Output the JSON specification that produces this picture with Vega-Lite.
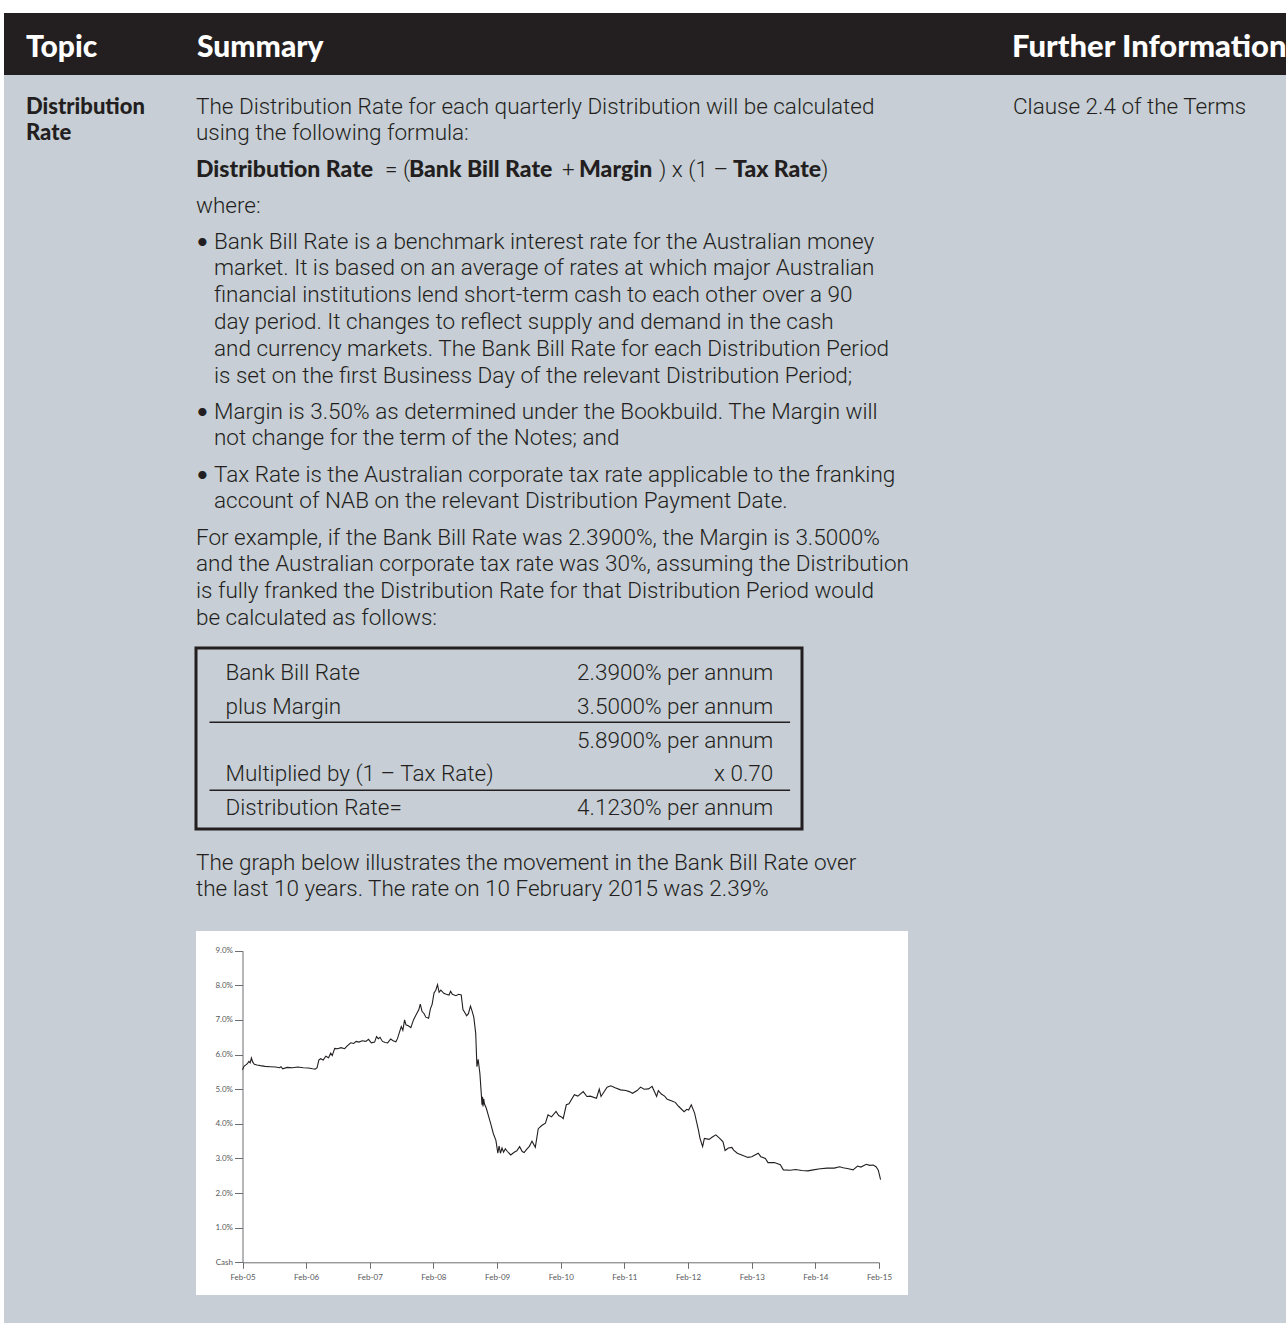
{
  "$schema": "https://vega.github.io/schema/vega-lite/v6.json",
  "background": "#c7ced5",
  "padding": 0,
  "spacing": 0,
  "config": {
    "view": {"stroke": null},
    "concat": {"spacing": 0},
    "text": {"font": "Roboto", "fontSize": 22.5, "fontWeight": 300, "color": "#231f20", "align": "left", "baseline": "alphabetic"},
    "axis": {"labelFont": "Lato", "labelFontSize": 8, "labelColor": "#58595b", "domainColor": "#6d6e71", "tickColor": "#6d6e71", "domainWidth": 1, "tickWidth": 1, "grid": false, "labelFlush": false, "labelOverlap": false}
  },
  "datasets": {
    "topic": [{"line": 1, "text": "Distribution"}, {"line": 2, "text": "Rate"}],
    "intro": [{"line": 1, "text": "The Distribution Rate for each quarterly Distribution will be calculated"}, {"line": 2, "text": "using the following formula:"}],
    "where": [{"line": 1, "text": "where:"}],
    "bullet1": [
      {"line": 1, "text": "Bank Bill Rate is a benchmark interest rate for the Australian money"},
      {"line": 2, "text": "market. It is based on an average of rates at which major Australian"},
      {"line": 3, "text": "financial institutions lend short-term cash to each other over a 90"},
      {"line": 4, "text": "day period. It changes to reflect supply and demand in the cash"},
      {"line": 5, "text": "and currency markets. The Bank Bill Rate for each Distribution Period"},
      {"line": 6, "text": "is set on the first Business Day of the relevant Distribution Period;"}
    ],
    "bullet2": [
      {"line": 1, "text": "Margin is 3.50% as determined under the Bookbuild. The Margin will"},
      {"line": 2, "text": "not change for the term of the Notes; and"}
    ],
    "bullet3": [
      {"line": 1, "text": "Tax Rate is the Australian corporate tax rate applicable to the franking"},
      {"line": 2, "text": "account of NAB on the relevant Distribution Payment Date."}
    ],
    "example": [
      {"line": 1, "text": "For example, if the Bank Bill Rate was 2.3900%, the Margin is 3.5000%"},
      {"line": 2, "text": "and the Australian corporate tax rate was 30%, assuming the Distribution"},
      {"line": 3, "text": "is fully franked the Distribution Rate for that Distribution Period would"},
      {"line": 4, "text": "be calculated as follows:"}
    ],
    "calc": [
      {"row": 1, "label": "Bank Bill Rate", "value": "2.3900% per annum"},
      {"row": 2, "label": "plus Margin", "value": "3.5000% per annum"},
      {"row": 3, "label": "", "value": "5.8900% per annum"},
      {"row": 4, "label": "Multiplied by (1 – Tax Rate)", "value": "x 0.70"},
      {"row": 5, "label": "Distribution Rate=", "value": "4.1230% per annum"}
    ],
    "calcRules": [{"row": 2}, {"row": 4}],
    "graphText": [
      {"line": 1, "text": "The graph below illustrates the movement in the Bank Bill Rate over"},
      {"line": 2, "text": "the last 10 years. The rate on 10 February 2015 was 2.39%"}
    ],
    "further": [{"line": 1, "text": "Clause 2.4 of the Terms"}],
    "bbsw": [
      {"d":"2005-02-01","r":5.56},{"d":"2005-02-10","r":5.66},{"d":"2005-02-20","r":5.70},{"d":"2005-03-01","r":5.74},
      {"d":"2005-03-10","r":5.80},{"d":"2005-03-17","r":5.76},{"d":"2005-03-24","r":5.90},{"d":"2005-04-01","r":5.78},
      {"d":"2005-04-10","r":5.72},{"d":"2005-04-25","r":5.70},{"d":"2005-05-15","r":5.68},{"d":"2005-06-10","r":5.66},
      {"d":"2005-07-10","r":5.65},{"d":"2005-08-10","r":5.64},{"d":"2005-09-01","r":5.62},{"d":"2005-09-10","r":5.65},
      {"d":"2005-09-20","r":5.59},{"d":"2005-10-15","r":5.63},{"d":"2005-11-15","r":5.62},{"d":"2005-12-15","r":5.64},
      {"d":"2006-01-15","r":5.62},{"d":"2006-02-15","r":5.61},{"d":"2006-03-10","r":5.59},{"d":"2006-03-25","r":5.58},
      {"d":"2006-04-05","r":5.62},{"d":"2006-04-15","r":5.84},{"d":"2006-04-25","r":5.88},{"d":"2006-05-10","r":5.84},
      {"d":"2006-05-25","r":5.95},{"d":"2006-06-10","r":5.91},{"d":"2006-06-22","r":6.04},{"d":"2006-07-01","r":5.97},
      {"d":"2006-07-15","r":6.18},{"d":"2006-08-01","r":6.17},{"d":"2006-08-20","r":6.20},{"d":"2006-09-10","r":6.17},
      {"d":"2006-09-25","r":6.25},{"d":"2006-10-15","r":6.34},{"d":"2006-11-01","r":6.32},{"d":"2006-11-15","r":6.38},
      {"d":"2006-12-01","r":6.36},{"d":"2006-12-20","r":6.40},{"d":"2007-01-10","r":6.38},{"d":"2007-01-25","r":6.44},
      {"d":"2007-02-10","r":6.34},{"d":"2007-03-01","r":6.36},{"d":"2007-03-12","r":6.52},{"d":"2007-03-22","r":6.46},
      {"d":"2007-04-01","r":6.50},{"d":"2007-04-15","r":6.38},{"d":"2007-05-01","r":6.35},{"d":"2007-05-15","r":6.34},
      {"d":"2007-06-01","r":6.45},{"d":"2007-06-15","r":6.40},{"d":"2007-07-01","r":6.37},{"d":"2007-07-10","r":6.46},
      {"d":"2007-07-20","r":6.62},{"d":"2007-08-01","r":6.81},{"d":"2007-08-10","r":6.70},{"d":"2007-08-20","r":7.00},
      {"d":"2007-08-28","r":6.86},{"d":"2007-09-10","r":6.83},{"d":"2007-09-25","r":6.78},{"d":"2007-10-10","r":7.00},
      {"d":"2007-10-25","r":7.15},{"d":"2007-11-10","r":7.30},{"d":"2007-11-18","r":7.46},{"d":"2007-11-28","r":7.25},
      {"d":"2007-12-10","r":7.18},{"d":"2007-12-20","r":7.08},{"d":"2008-01-05","r":7.05},{"d":"2008-01-15","r":7.32},
      {"d":"2008-01-25","r":7.45},{"d":"2008-02-05","r":7.78},{"d":"2008-02-15","r":7.86},{"d":"2008-02-25","r":8.02},
      {"d":"2008-03-05","r":7.80},{"d":"2008-03-15","r":7.86},{"d":"2008-04-01","r":7.77},{"d":"2008-04-15","r":7.74},
      {"d":"2008-05-01","r":7.72},{"d":"2008-05-10","r":7.83},{"d":"2008-05-20","r":7.74},{"d":"2008-06-10","r":7.70},
      {"d":"2008-06-25","r":7.74},{"d":"2008-07-10","r":7.72},{"d":"2008-07-20","r":7.30},{"d":"2008-08-01","r":7.20},
      {"d":"2008-08-10","r":7.12},{"d":"2008-08-20","r":7.18},{"d":"2008-09-01","r":7.40},{"d":"2008-09-10","r":7.26},
      {"d":"2008-09-20","r":7.08},{"d":"2008-10-01","r":6.62},{"d":"2008-10-08","r":5.65},{"d":"2008-10-15","r":5.86},
      {"d":"2008-10-25","r":5.46},{"d":"2008-11-03","r":4.80},{"d":"2008-11-06","r":4.55},{"d":"2008-11-09","r":4.78},
      {"d":"2008-11-12","r":4.50},{"d":"2008-11-16","r":4.72},{"d":"2008-11-20","r":4.58},{"d":"2008-12-01","r":4.45},
      {"d":"2008-12-15","r":4.20},{"d":"2008-12-28","r":3.97},{"d":"2009-01-10","r":3.72},{"d":"2009-01-25","r":3.52},
      {"d":"2009-02-05","r":3.15},{"d":"2009-02-12","r":3.36},{"d":"2009-02-20","r":3.15},{"d":"2009-03-01","r":3.30},
      {"d":"2009-03-10","r":3.18},{"d":"2009-03-20","r":3.28},{"d":"2009-04-01","r":3.20},{"d":"2009-04-20","r":3.10},
      {"d":"2009-05-10","r":3.18},{"d":"2009-05-25","r":3.22},{"d":"2009-06-10","r":3.34},{"d":"2009-06-25","r":3.20},
      {"d":"2009-07-06","r":3.17},{"d":"2009-07-20","r":3.26},{"d":"2009-08-05","r":3.35},{"d":"2009-08-20","r":3.50},
      {"d":"2009-09-08","r":3.32},{"d":"2009-09-25","r":3.86},{"d":"2009-10-15","r":3.95},{"d":"2009-11-05","r":4.02},
      {"d":"2009-11-20","r":4.26},{"d":"2009-12-10","r":4.20},{"d":"2010-01-05","r":4.36},{"d":"2010-01-20","r":4.24},
      {"d":"2010-02-05","r":4.20},{"d":"2010-02-15","r":4.15},{"d":"2010-03-05","r":4.55},{"d":"2010-03-20","r":4.58},
      {"d":"2010-04-20","r":4.84},{"d":"2010-05-10","r":4.80},{"d":"2010-06-10","r":4.93},{"d":"2010-07-01","r":4.79},
      {"d":"2010-07-20","r":4.80},{"d":"2010-08-25","r":4.74},{"d":"2010-09-10","r":5.00},{"d":"2010-09-20","r":4.79},
      {"d":"2010-10-25","r":5.06},{"d":"2010-11-15","r":5.10},{"d":"2010-12-10","r":5.04},{"d":"2011-01-10","r":4.98},
      {"d":"2011-02-10","r":4.96},{"d":"2011-03-01","r":4.93},{"d":"2011-03-20","r":4.88},{"d":"2011-04-15","r":4.96},
      {"d":"2011-05-05","r":5.06},{"d":"2011-05-25","r":5.00},{"d":"2011-06-20","r":5.01},{"d":"2011-07-10","r":5.08},
      {"d":"2011-08-05","r":4.79},{"d":"2011-08-15","r":4.96},{"d":"2011-09-01","r":4.86},{"d":"2011-09-20","r":4.80},
      {"d":"2011-10-05","r":4.71},{"d":"2011-11-01","r":4.66},{"d":"2011-11-20","r":4.62},{"d":"2011-12-10","r":4.50},
      {"d":"2012-01-10","r":4.35},{"d":"2012-01-25","r":4.42},{"d":"2012-02-05","r":4.40},{"d":"2012-02-20","r":4.55},
      {"d":"2012-03-10","r":4.31},{"d":"2012-04-01","r":3.82},{"d":"2012-04-10","r":3.58},{"d":"2012-04-25","r":3.34},
      {"d":"2012-05-05","r":3.58},{"d":"2012-06-01","r":3.55},{"d":"2012-06-20","r":3.62},{"d":"2012-07-10","r":3.68},
      {"d":"2012-08-01","r":3.58},{"d":"2012-08-20","r":3.48},{"d":"2012-09-01","r":3.23},{"d":"2012-09-20","r":3.30},
      {"d":"2012-10-10","r":3.32},{"d":"2012-10-20","r":3.24},{"d":"2012-11-10","r":3.15},{"d":"2012-12-05","r":3.10},
      {"d":"2013-01-10","r":3.03},{"d":"2013-02-01","r":3.05},{"d":"2013-03-10","r":3.15},{"d":"2013-03-25","r":3.05},
      {"d":"2013-04-20","r":3.00},{"d":"2013-05-05","r":2.88},{"d":"2013-06-10","r":2.88},{"d":"2013-07-15","r":2.82},
      {"d":"2013-08-01","r":2.67},{"d":"2013-09-10","r":2.66},{"d":"2013-10-10","r":2.68},{"d":"2013-11-15","r":2.65},
      {"d":"2013-12-20","r":2.64},{"d":"2014-01-20","r":2.67},{"d":"2014-03-01","r":2.70},{"d":"2014-04-10","r":2.72},
      {"d":"2014-05-20","r":2.72},{"d":"2014-06-20","r":2.76},{"d":"2014-07-10","r":2.73},{"d":"2014-08-10","r":2.70},
      {"d":"2014-09-05","r":2.67},{"d":"2014-10-01","r":2.78},{"d":"2014-10-20","r":2.75},{"d":"2014-11-20","r":2.83},
      {"d":"2014-12-10","r":2.80},{"d":"2014-12-30","r":2.81},{"d":"2015-01-15","r":2.76},{"d":"2015-01-28","r":2.66},
      {"d":"2015-02-10","r":2.39}
    ]
  },
  "vconcat": [
    {"width": 1286, "height": 13, "view": {"fill": "#ffffff"}, "data": {"values": []}, "mark": "text", "encoding": {}},
    {
      "bounds": "flush",
      "spacing": 0,
      "hconcat": [
        {"width": 4, "height": 62, "view": {"fill": "#ffffff"}, "data": {"values": []}, "mark": "text", "encoding": {}},
        {"width": 22, "height": 62, "view": {"fill": "#231f20"}, "data": {"values": []}, "mark": "text", "encoding": {}},
        {"width": 171, "height": 62, "view": {"fill": "#231f20"}, "data": {"values": [{"text": "Topic"}]},
          "mark": {"type": "text", "font": "Lato", "fontSize": 30, "fontWeight": 900, "color": "#ffffff"},
          "encoding": {
            "x": {"datum": "c", "type": "nominal", "scale": {"type": "band", "paddingInner": 0, "paddingOuter": 0, "round": false}, "bandPosition": 0, "axis": null},
            "y": {"datum": "h", "type": "nominal", "scale": {"type": "band", "paddingInner": 0, "paddingOuter": 0, "round": false}, "bandPosition": 0.71, "axis": null},
            "text": {"field": "text"}}},
        {"width": 815, "height": 62, "view": {"fill": "#231f20"}, "data": {"values": [{"text": "Summary"}]},
          "mark": {"type": "text", "font": "Lato", "fontSize": 30, "fontWeight": 900, "color": "#ffffff"},
          "encoding": {
            "x": {"datum": "c", "type": "nominal", "scale": {"type": "band", "paddingInner": 0, "paddingOuter": 0, "round": false}, "bandPosition": 0, "axis": null},
            "y": {"datum": "h", "type": "nominal", "scale": {"type": "band", "paddingInner": 0, "paddingOuter": 0, "round": false}, "bandPosition": 0.71, "axis": null},
            "text": {"field": "text"}}},
        {"width": 274, "height": 62, "view": {"fill": "#231f20"}, "data": {"values": [{"text": "Further Information"}]},
          "mark": {"type": "text", "font": "Lato", "fontSize": 31, "fontWeight": 900, "color": "#ffffff"},
          "encoding": {
            "x": {"datum": "c", "type": "nominal", "scale": {"type": "band", "paddingInner": 0, "paddingOuter": 0, "round": false}, "bandPosition": 0, "axis": null},
            "y": {"datum": "h", "type": "nominal", "scale": {"type": "band", "paddingInner": 0, "paddingOuter": 0, "round": false}, "bandPosition": 0.71, "axis": null},
            "text": {"field": "text"}}}
      ]
    },
    {
      "spacing": 0,
      "hconcat": [
        {"width": 4, "height": 1248, "view": {"fill": "#ffffff"}, "data": {"values": []}, "mark": "text", "encoding": {}},
        {"width": 22, "height": 1248, "data": {"values": []}, "mark": "text", "encoding": {}},
        {
          "spacing": 0,
          "vconcat": [
            {"width": 1, "height": 18.3, "data": {"values": []}, "mark": "text", "encoding": {}},
            {"width": 168, "height": 53.6, "data": {"name": "topic"}, "mark": {"type": "text", "font": "Lato", "fontSize": 22, "fontWeight": 900},
              "encoding": {
                "x": {"datum": "c", "type": "nominal", "scale": {"type": "band", "paddingInner": 0, "paddingOuter": 0, "round": false}, "bandPosition": 0, "axis": null},
                "y": {"field": "line", "type": "ordinal", "scale": {"type": "band", "paddingInner": 0, "paddingOuter": 0, "round": false}, "bandPosition": 0.735, "axis": null},
                "text": {"field": "text"}}}
          ]
        },
        {
          "spacing": 0,
          "vconcat": [
            {"width": 1, "height": 18.3, "data": {"values": []}, "mark": "text", "encoding": {}},
            {"width": 815, "height": 53.6, "data": {"name": "intro"}, "mark": "text",
              "encoding": {
                "x": {"datum": "c", "type": "nominal", "scale": {"type": "band", "paddingInner": 0, "paddingOuter": 0, "round": false}, "bandPosition": 0, "axis": null},
                "y": {"field": "line", "type": "ordinal", "scale": {"type": "band", "paddingInner": 0, "paddingOuter": 0, "round": false}, "bandPosition": 0.735, "axis": null},
                "text": {"field": "text"}}},
            {"width": 1, "height": 9, "data": {"values": []}, "mark": "text", "encoding": {}},
            {
              "bounds": "flush",
              "spacing": 0,
              "hconcat": [
                {"width": 189, "height": 26.8, "data": {"values": [{"line": 1, "text": "Distribution Rate"}]}, "mark": {"type": "text", "font": "Lato", "fontSize": 23, "fontWeight": 900},
                  "encoding": {"x": {"datum": "c", "type": "nominal", "scale": {"type": "band", "paddingInner": 0, "paddingOuter": 0, "round": false}, "bandPosition": 0, "axis": null},
                    "y": {"field": "line", "type": "ordinal", "scale": {"type": "band", "paddingInner": 0, "paddingOuter": 0, "round": false}, "bandPosition": 0.735, "axis": null}, "text": {"field": "text"}}},
                {"width": 24, "height": 26.8, "data": {"values": [{"line": 1, "text": "= ("}]}, "mark": {"type": "text"},
                  "encoding": {"x": {"datum": "c", "type": "nominal", "scale": {"type": "band", "paddingInner": 0, "paddingOuter": 0, "round": false}, "bandPosition": 0, "axis": null},
                    "y": {"field": "line", "type": "ordinal", "scale": {"type": "band", "paddingInner": 0, "paddingOuter": 0, "round": false}, "bandPosition": 0.735, "axis": null}, "text": {"field": "text"}}},
                {"width": 153, "height": 26.8, "data": {"values": [{"line": 1, "text": "Bank Bill Rate"}]}, "mark": {"type": "text", "font": "Lato", "fontSize": 23, "fontWeight": 900},
                  "encoding": {"x": {"datum": "c", "type": "nominal", "scale": {"type": "band", "paddingInner": 0, "paddingOuter": 0, "round": false}, "bandPosition": 0, "axis": null},
                    "y": {"field": "line", "type": "ordinal", "scale": {"type": "band", "paddingInner": 0, "paddingOuter": 0, "round": false}, "bandPosition": 0.735, "axis": null}, "text": {"field": "text"}}},
                {"width": 17, "height": 26.8, "data": {"values": [{"line": 1, "text": "+"}]}, "mark": {"type": "text"},
                  "encoding": {"x": {"datum": "c", "type": "nominal", "scale": {"type": "band", "paddingInner": 0, "paddingOuter": 0, "round": false}, "bandPosition": 0, "axis": null},
                    "y": {"field": "line", "type": "ordinal", "scale": {"type": "band", "paddingInner": 0, "paddingOuter": 0, "round": false}, "bandPosition": 0.735, "axis": null}, "text": {"field": "text"}}},
                {"width": 80, "height": 26.8, "data": {"values": [{"line": 1, "text": "Margin"}]}, "mark": {"type": "text", "font": "Lato", "fontSize": 23, "fontWeight": 900},
                  "encoding": {"x": {"datum": "c", "type": "nominal", "scale": {"type": "band", "paddingInner": 0, "paddingOuter": 0, "round": false}, "bandPosition": 0, "axis": null},
                    "y": {"field": "line", "type": "ordinal", "scale": {"type": "band", "paddingInner": 0, "paddingOuter": 0, "round": false}, "bandPosition": 0.735, "axis": null}, "text": {"field": "text"}}},
                {"width": 74, "height": 26.8, "data": {"values": [{"line": 1, "text": ") x (1 –"}]}, "mark": {"type": "text"},
                  "encoding": {"x": {"datum": "c", "type": "nominal", "scale": {"type": "band", "paddingInner": 0, "paddingOuter": 0, "round": false}, "bandPosition": 0, "axis": null},
                    "y": {"field": "line", "type": "ordinal", "scale": {"type": "band", "paddingInner": 0, "paddingOuter": 0, "round": false}, "bandPosition": 0.735, "axis": null}, "text": {"field": "text"}}},
                {"width": 88, "height": 26.8, "data": {"values": [{"line": 1, "text": "Tax Rate"}]}, "mark": {"type": "text", "font": "Lato", "fontSize": 23, "fontWeight": 900},
                  "encoding": {"x": {"datum": "c", "type": "nominal", "scale": {"type": "band", "paddingInner": 0, "paddingOuter": 0, "round": false}, "bandPosition": 0, "axis": null},
                    "y": {"field": "line", "type": "ordinal", "scale": {"type": "band", "paddingInner": 0, "paddingOuter": 0, "round": false}, "bandPosition": 0.735, "axis": null}, "text": {"field": "text"}}},
                {"width": 192, "height": 26.8, "data": {"values": [{"line": 1, "text": ")"}]}, "mark": {"type": "text"},
                  "encoding": {"x": {"datum": "c", "type": "nominal", "scale": {"type": "band", "paddingInner": 0, "paddingOuter": 0, "round": false}, "bandPosition": 0, "axis": null},
                    "y": {"field": "line", "type": "ordinal", "scale": {"type": "band", "paddingInner": 0, "paddingOuter": 0, "round": false}, "bandPosition": 0.735, "axis": null}, "text": {"field": "text"}}}
              ]
            },
            {"width": 1, "height": 9, "data": {"values": []}, "mark": "text", "encoding": {}},
            {"width": 815, "height": 26.8, "data": {"name": "where"}, "mark": "text",
              "encoding": {
                "x": {"datum": "c", "type": "nominal", "scale": {"type": "band", "paddingInner": 0, "paddingOuter": 0, "round": false}, "bandPosition": 0, "axis": null},
                "y": {"field": "line", "type": "ordinal", "scale": {"type": "band", "paddingInner": 0, "paddingOuter": 0, "round": false}, "bandPosition": 0.735, "axis": null},
                "text": {"field": "text"}}},
            {"width": 1, "height": 9, "data": {"values": []}, "mark": "text", "encoding": {}},
            {
              "bounds": "flush",
              "spacing": 0,
              "hconcat": [
                {"width": 18, "height": 160.8, "data": {"values": [{"line": 1, "text": "•"}]}, "mark": {"type": "text", "font": "Lato", "fontWeight": 400, "fontSize": 22},
                  "encoding": {"x": {"datum": "c", "type": "nominal", "scale": {"type": "band", "paddingInner": 0, "paddingOuter": 0, "round": false}, "bandPosition": 0, "axis": null},
                    "y": {"field": "line", "type": "ordinal", "scale": {"type": "band", "domain": [1, 2, 3, 4, 5, 6], "paddingInner": 0, "paddingOuter": 0, "round": false}, "bandPosition": 0.735, "axis": null}, "text": {"field": "text"}}},
                {"width": 797, "height": 160.8, "data": {"name": "bullet1"}, "mark": "text",
                  "encoding": {"x": {"datum": "c", "type": "nominal", "scale": {"type": "band", "paddingInner": 0, "paddingOuter": 0, "round": false}, "bandPosition": 0, "axis": null},
                    "y": {"field": "line", "type": "ordinal", "scale": {"type": "band", "paddingInner": 0, "paddingOuter": 0, "round": false}, "bandPosition": 0.735, "axis": null}, "text": {"field": "text"}}}
              ]
            },
            {"width": 1, "height": 9, "data": {"values": []}, "mark": "text", "encoding": {}},
            {
              "bounds": "flush",
              "spacing": 0,
              "hconcat": [
                {"width": 18, "height": 53.6, "data": {"values": [{"line": 1, "text": "•"}]}, "mark": {"type": "text", "font": "Lato", "fontWeight": 400, "fontSize": 22},
                  "encoding": {"x": {"datum": "c", "type": "nominal", "scale": {"type": "band", "paddingInner": 0, "paddingOuter": 0, "round": false}, "bandPosition": 0, "axis": null},
                    "y": {"field": "line", "type": "ordinal", "scale": {"type": "band", "domain": [1, 2], "paddingInner": 0, "paddingOuter": 0, "round": false}, "bandPosition": 0.735, "axis": null}, "text": {"field": "text"}}},
                {"width": 797, "height": 53.6, "data": {"name": "bullet2"}, "mark": "text",
                  "encoding": {"x": {"datum": "c", "type": "nominal", "scale": {"type": "band", "paddingInner": 0, "paddingOuter": 0, "round": false}, "bandPosition": 0, "axis": null},
                    "y": {"field": "line", "type": "ordinal", "scale": {"type": "band", "paddingInner": 0, "paddingOuter": 0, "round": false}, "bandPosition": 0.735, "axis": null}, "text": {"field": "text"}}}
              ]
            },
            {"width": 1, "height": 9, "data": {"values": []}, "mark": "text", "encoding": {}},
            {
              "bounds": "flush",
              "spacing": 0,
              "hconcat": [
                {"width": 18, "height": 53.6, "data": {"values": [{"line": 1, "text": "•"}]}, "mark": {"type": "text", "font": "Lato", "fontWeight": 400, "fontSize": 22},
                  "encoding": {"x": {"datum": "c", "type": "nominal", "scale": {"type": "band", "paddingInner": 0, "paddingOuter": 0, "round": false}, "bandPosition": 0, "axis": null},
                    "y": {"field": "line", "type": "ordinal", "scale": {"type": "band", "domain": [1, 2], "paddingInner": 0, "paddingOuter": 0, "round": false}, "bandPosition": 0.735, "axis": null}, "text": {"field": "text"}}},
                {"width": 797, "height": 53.6, "data": {"name": "bullet3"}, "mark": "text",
                  "encoding": {"x": {"datum": "c", "type": "nominal", "scale": {"type": "band", "paddingInner": 0, "paddingOuter": 0, "round": false}, "bandPosition": 0, "axis": null},
                    "y": {"field": "line", "type": "ordinal", "scale": {"type": "band", "paddingInner": 0, "paddingOuter": 0, "round": false}, "bandPosition": 0.735, "axis": null}, "text": {"field": "text"}}}
              ]
            },
            {"width": 1, "height": 9, "data": {"values": []}, "mark": "text", "encoding": {}},
            {"width": 815, "height": 107.2, "data": {"name": "example"}, "mark": "text",
              "encoding": {
                "x": {"datum": "c", "type": "nominal", "scale": {"type": "band", "paddingInner": 0, "paddingOuter": 0, "round": false}, "bandPosition": 0, "axis": null},
                "y": {"field": "line", "type": "ordinal", "scale": {"type": "band", "paddingInner": 0, "paddingOuter": 0, "round": false}, "bandPosition": 0.735, "axis": null},
                "text": {"field": "text"}}},
            {"width": 1, "height": 12.3, "data": {"values": []}, "mark": "text", "encoding": {}},
            {
              "width": 606, "height": 181,
              "view": {"stroke": "#231f20", "strokeWidth": 3},
              "data": {"name": "calc"},
              "layer": [
                {"mark": {"type": "text"},
                  "encoding": {
                    "x": {"datum": "label", "type": "nominal", "scale": {"type": "band", "domain": ["label", "value"], "paddingInner": 0, "paddingOuter": 0.1062, "align": 0.507, "round": false}, "bandPosition": 0, "axis": null},
                    "y": {"field": "row", "type": "ordinal", "scale": {"type": "band", "domain": [1, 2, 3, 4, 5], "paddingInner": 0, "paddingOuter": 0.1618, "align": 0.564, "round": false}, "bandPosition": 0.744, "axis": null},
                    "text": {"field": "label"}}},
                {"mark": {"type": "text", "align": "right"},
                  "encoding": {
                    "x": {"datum": "value", "type": "nominal", "scale": {"type": "band", "domain": ["label", "value"], "paddingInner": 0, "paddingOuter": 0.1062, "align": 0.507, "round": false}, "bandPosition": 1, "axis": null},
                    "y": {"field": "row", "type": "ordinal", "scale": {"type": "band", "domain": [1, 2, 3, 4, 5], "paddingInner": 0, "paddingOuter": 0.1618, "align": 0.564, "round": false}, "bandPosition": 0.744, "axis": null},
                    "text": {"field": "value"}}},
                {"data": {"name": "calcRules"},
                  "mark": {"type": "rule", "color": "#231f20", "strokeWidth": 1.5},
                  "encoding": {
                    "x": {"datum": "label", "type": "nominal", "scale": {"type": "band", "domain": ["label", "value"], "paddingInner": 0, "paddingOuter": 0.04375, "align": 0.531, "round": false}, "bandPosition": 0, "axis": null},
                    "x2": {"datum": "value", "bandPosition": 1},
                    "y": {"field": "row", "type": "ordinal", "scale": {"type": "band", "domain": [1, 2, 3, 4, 5], "paddingInner": 0, "paddingOuter": 0.1618, "align": 0.564, "round": false}, "bandPosition": 1, "axis": null}}}
              ],
              "resolve": {"scale": {"x": "independent"}}
            },
            {"width": 1, "height": 18.8, "data": {"values": []}, "mark": "text", "encoding": {}},
            {"width": 815, "height": 53.6, "data": {"name": "graphText"}, "mark": "text",
              "encoding": {
                "x": {"datum": "c", "type": "nominal", "scale": {"type": "band", "paddingInner": 0, "paddingOuter": 0, "round": false}, "bandPosition": 0, "axis": null},
                "y": {"field": "line", "type": "ordinal", "scale": {"type": "band", "paddingInner": 0, "paddingOuter": 0, "round": false}, "bandPosition": 0.735, "axis": null},
                "text": {"field": "text"}}},
            {"width": 1, "height": 26.6, "data": {"values": []}, "mark": "text", "encoding": {}},
            {
              "width": 712, "height": 364,
              "view": {"fill": "#ffffff"},
              "data": {"name": "bbsw"},
              "mark": {"type": "line", "color": "#231f20", "strokeWidth": 1.1},
              "encoding": {
                "x": {"field": "d", "type": "temporal",
                  "scale": {"domain": [{"year": 2005, "month": 2, "date": 1}, {"year": 2015, "month": 2, "date": 1}], "range": [46.5, 683]},
                  "axis": {"orient": "bottom", "offset": -32.7, "title": null, "format": "%b-%y", "tickSize": 6, "labelPadding": 5,
                    "values": [{"year": 2005, "month": 2, "date": 1}, {"year": 2006, "month": 2, "date": 1}, {"year": 2007, "month": 2, "date": 1}, {"year": 2008, "month": 2, "date": 1}, {"year": 2009, "month": 2, "date": 1}, {"year": 2010, "month": 2, "date": 1}, {"year": 2011, "month": 2, "date": 1}, {"year": 2012, "month": 2, "date": 1}, {"year": 2013, "month": 2, "date": 1}, {"year": 2014, "month": 2, "date": 1}, {"year": 2015, "month": 2, "date": 1}]}},
                "y": {"field": "r", "type": "quantitative",
                  "scale": {"domain": [0, 9], "range": [331.3, 19.7], "nice": false, "zero": false},
                  "axis": {"orient": "left", "offset": -46.5, "title": null, "values": [0, 1, 2, 3, 4, 5, 6, 7, 8, 9], "tickSize": 8, "labelPadding": 2,
                    "labelExpr": "datum.value === 0 ? 'Cash' : format(datum.value, '.1f') + '%'"}}
              }
            }
          ]
        },
        {
          "spacing": 0,
          "vconcat": [
            {"width": 1, "height": 18.3, "data": {"values": []}, "mark": "text", "encoding": {}},
            {"width": 274, "height": 26.8, "data": {"name": "further"}, "mark": "text",
              "encoding": {
                "x": {"datum": "c", "type": "nominal", "scale": {"type": "band", "paddingInner": 0, "paddingOuter": 0, "round": false}, "bandPosition": 0, "axis": null},
                "y": {"field": "line", "type": "ordinal", "scale": {"type": "band", "paddingInner": 0, "paddingOuter": 0, "round": false}, "bandPosition": 0.735, "axis": null},
                "text": {"field": "text"}}}
          ]
        }
      ]
    }
  ]
}
